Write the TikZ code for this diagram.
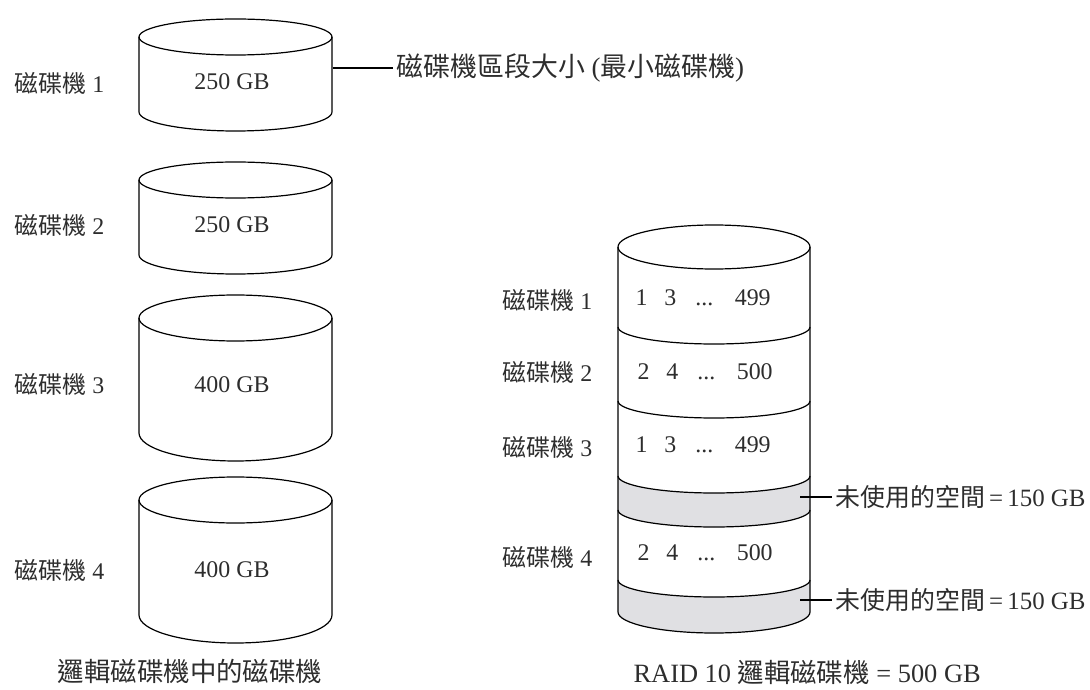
\documentclass[tikz,border=0pt]{standalone}
\usepackage{fontspec}
\setmainfont{Liberation Serif}
\newfontfamily\cjk{Noto Sans CJK TC}
\usepackage{tikz}
\definecolor{unusedgray}{RGB}{224,224,227}
\definecolor{textgray}{RGB}{45,45,45}

% one disk: centre x, top ellipse y, side bottom y, half width, top height, bottom height
\newcommand{\diskcyl}[6]{%
  \draw (#1,#2) ellipse [x radius=#4bp, y radius=#5bp];
  \draw (#1-#4,#2) -- (#1-#4,#3)
    arc [start angle=180, end angle=360, x radius=#4bp, y radius=#6bp]
    -- (#1+#4,#2);
}

\begin{document}
\begin{tikzpicture}[x=1bp, y=-1bp, line width=1.2bp,
    every node/.style={font=\fontsize{24}{28}\selectfont, text=textgray, inner sep=3bp},
    bigtext/.style={font=\fontsize{26.5}{30}\selectfont},
    half/.style={x radius=96bp, y radius=17bp}]
    \useasboundingbox (0,0) rectangle (1090,690);

    % drives on their own
    \diskcyl{235.5}{37}{112}{96.5}{18}{19}
    \diskcyl{235.5}{180}{255}{96.5}{18}{19}
    \diskcyl{235.5}{318}{433}{96.5}{23}{28}
    \diskcyl{235.5}{500}{615}{96.5}{23}{28}

    \node (c1) at (232,82) {250 GB};
    \node (c2) at (232,225) {250 GB};
    \node (c3) at (232,385) {400 GB};
    \node (c4) at (232,570) {400 GB};

    \node[anchor=east] (l1) at (108,83) {{\cjk 磁碟機} 1};
    \node[anchor=east] (l2) at (108,225) {{\cjk 磁碟機} 2};
    \node[anchor=east] (l3) at (108,384) {{\cjk 磁碟機} 3};
    \node[anchor=east] (l4) at (108,570) {{\cjk 磁碟機} 4};

    % segment size label
    \coordinate (seg) at (333,68);
    \node[anchor=west, font=\fontsize{27}{30}\selectfont] (seglbl) at (393,68)
        {{\cjk 磁碟機區段大小} ({\cjk 最小磁碟機})};
    \draw (seg) -- (seglbl.west);

    % RAID 10 drive
    \fill[unusedgray] (618,476) arc [start angle=180, end angle=360, half]
        -- (810,510) arc [start angle=0, end angle=-180, half] -- cycle;
    \fill[unusedgray] (618,580) arc [start angle=180, end angle=360, half]
        -- (810,612) arc [start angle=0, end angle=-180, x radius=96bp, y radius=21bp] -- cycle;
    \draw (714,247) ellipse [x radius=96bp, y radius=22bp];
    \draw (618,247) -- (618,612)
        arc [start angle=180, end angle=360, x radius=96bp, y radius=21bp] -- (810,247);
    \foreach \y in {327,401,476,510,580}
        \draw (618,\y) arc [start angle=180, end angle=360, half];

    \node[anchor=west] (r1) at (632,298) {1\hspace{0.7em}3\hspace{0.8em}...\hspace{0.9em}499};
    \node[anchor=west] (r2) at (634,372) {2\hspace{0.7em}4\hspace{0.8em}...\hspace{0.9em}500};
    \node[anchor=west] (r3) at (632,445) {1\hspace{0.7em}3\hspace{0.8em}...\hspace{0.9em}499};
    \node[anchor=west] (r4) at (634,553) {2\hspace{0.7em}4\hspace{0.8em}...\hspace{0.9em}500};

    \node[anchor=east] (m1) at (596,300) {{\cjk 磁碟機} 1};
    \node[anchor=east] (m2) at (596,372) {{\cjk 磁碟機} 2};
    \node[anchor=east] (m3) at (596,447) {{\cjk 磁碟機} 3};
    \node[anchor=east] (m4) at (596,557) {{\cjk 磁碟機} 4};

    % unused space
    \coordinate (u1) at (800,497);
    \coordinate (u2) at (800,600);
    \node[anchor=west, font=\fontsize{25}{28}\selectfont] (f1) at (832,497)
        {{\cjk 未使用的空間}\,=\,150 GB};
    \node[anchor=west, font=\fontsize{25}{28}\selectfont] (f2) at (832,600)
        {{\cjk 未使用的空間}\,=\,150 GB};
    \draw (u1) -- (f1.west);
    \draw (u2) -- (f2.west);

    % captions
    \node[bigtext] (cap1) at (190,671) {{\cjk 邏輯磁碟機中的磁碟機}};
    \node[bigtext, anchor=west] (cap2) at (630,672) {RAID 10 {\cjk 邏輯磁碟機} = 500 GB};
\end{tikzpicture}
\end{document}
